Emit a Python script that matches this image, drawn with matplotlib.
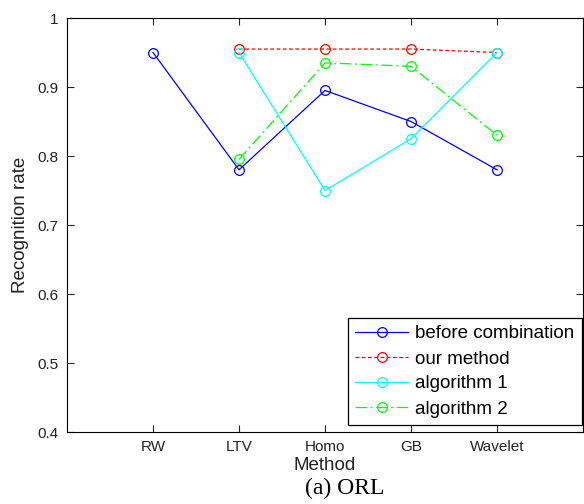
import matplotlib.pyplot as plt

methods = ['RW', 'LTV', 'Homo', 'GB', 'Wavelet']
x_before = [1, 2, 3, 4, 5]
before = [0.95, 0.78, 0.895, 0.85, 0.78]
x_rest = [2, 3, 4, 5]
ours = [0.955, 0.955, 0.955, 0.95]
algo1 = [0.95, 0.75, 0.825, 0.95]
algo2 = [0.795, 0.935, 0.93, 0.83]

plt.rcParams['font.family'] = ['Liberation Sans', 'DejaVu Sans']

fig = plt.figure(figsize=(5.84, 5.04), dpi=100)
ax = fig.add_axes([67 / 584, 72 / 504, 516 / 584, 414 / 504])

mk = dict(marker='o', markersize=7, markerfacecolor='none', linewidth=0.9,
          markeredgewidth=0.9)
ax.plot(x_before, before, linestyle='-', color='#0000ff',
        label='before combination', **mk)
ax.plot(x_rest, ours, linestyle=(0, (3, 2)), color='#ff0000',
        label='our method', **mk)
ax.plot(x_rest, algo1, linestyle='-', color='#00ffff',
        label='algorithm 1', **mk)
ax.plot(x_rest, algo2, linestyle=(0, (9, 3, 1.5, 3)), color='#00ff00',
        label='algorithm 2', **mk)

ax.set_xlim(0, 6)
ax.set_ylim(0.4, 1.0)
ax.set_xticks(x_before)
ax.set_xticklabels(methods)
ax.set_yticks([0.4, 0.5, 0.6, 0.7, 0.8, 0.9, 1.0])
ax.set_yticklabels(['0.4', '0.5', '0.6', '0.7', '0.8', '0.9', '1'])
ax.tick_params(direction='in', length=5, width=0.8, top=True, right=True,
               labelsize=11, colors='#222222', pad=6)
for s in ax.spines.values():
    s.set_linewidth(0.8)

ax.set_xlabel('Method', fontsize=13.5, color='#222222', labelpad=2)
ax.set_ylabel('Recognition rate', fontsize=13.5, color='#222222', labelpad=6)

leg = ax.legend(loc='lower right', bbox_to_anchor=(582 / 584, 79 / 504),
                bbox_transform=fig.transFigure, borderaxespad=0,
                fontsize=13.5, fancybox=False, framealpha=1, edgecolor='black',
                handlelength=2.8, handletextpad=0.4, labelspacing=0.42,
                borderpad=0.4)
leg.get_frame().set_linewidth(0.9)

fig.text(345 / 584, 1 - 488 / 504, '(a) ORL', ha='center', va='center',
         fontsize=17, family='Liberation Serif')

fig.savefig('out.png', dpi=100)
